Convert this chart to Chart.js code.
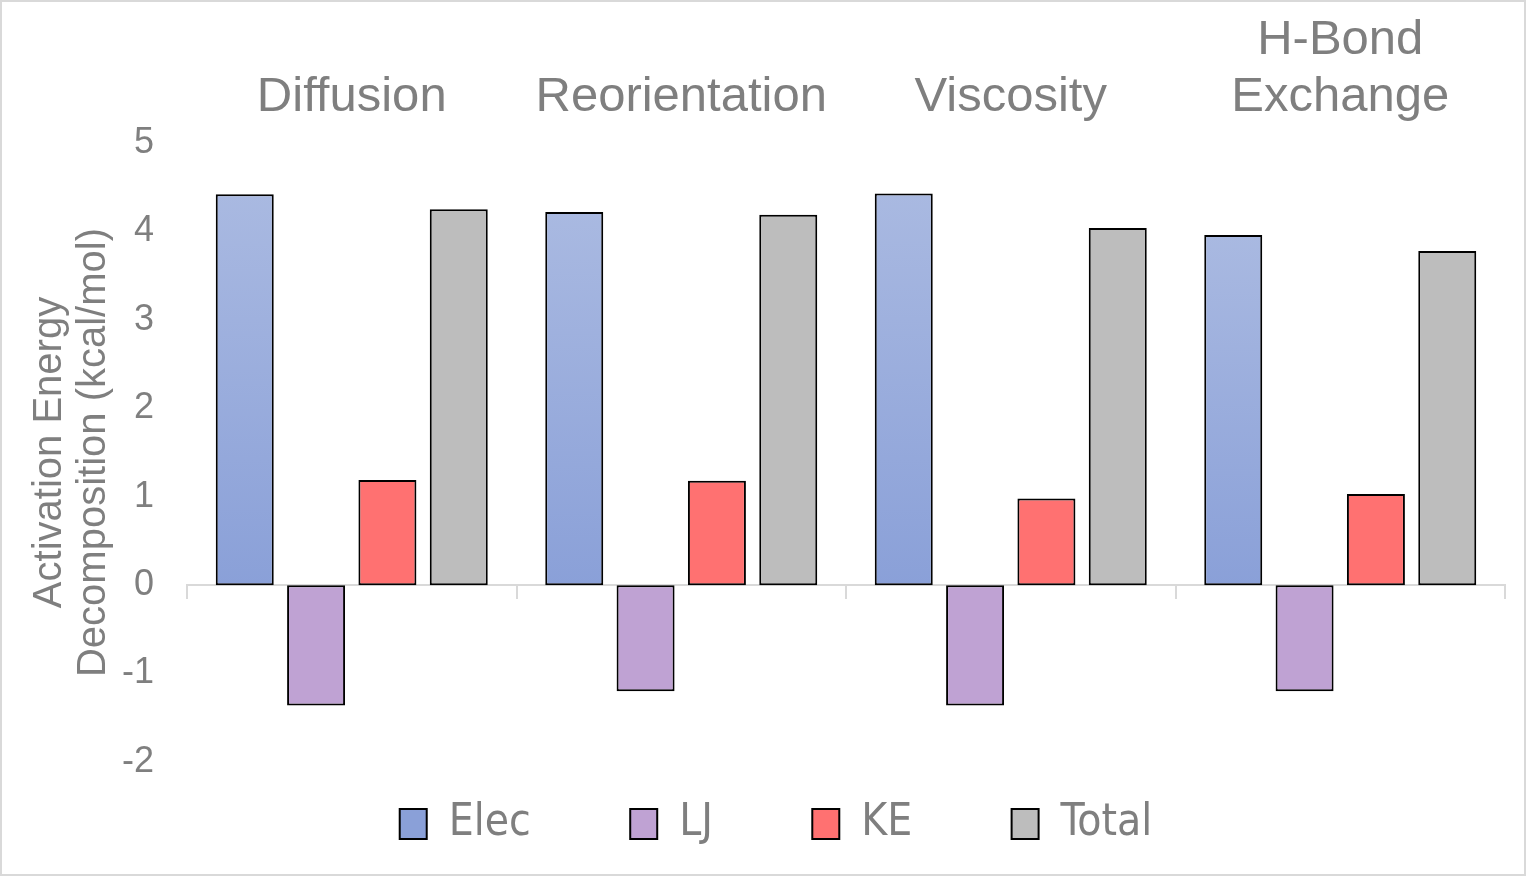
<!DOCTYPE html>
<html>
<head>
<meta charset="utf-8">
<script src="https://cdn.jsdelivr.net/npm/chart.js@4/dist/chart.umd.min.js"></script>
<style>
  html, body { margin: 0; padding: 0; background: #ffffff; }
  canvas { display: block; }
</style>
</head>
<body>
<canvas id="c" width="1526" height="876"></canvas>
<script>
// ---- data ----
const categories = ['Diffusion', 'Reorientation', 'Viscosity', ['H-Bond', 'Exchange']];
const seriesNames = ['Elec', 'LJ', 'KE', 'Total'];
const elecValues  = [4.42, 4.22, 4.43, 3.96];
const ljValues    = [-1.36, -1.20, -1.36, -1.20];
const keValues    = [1.19, 1.18, 0.98, 1.03];
const totalValues = [4.25, 4.19, 4.04, 3.78];
const yMin = -2, yMax = 5, yStep = 1;

// ---- style ----
const TEXT = '#7F7F7F';
const AXIS = '#D9D9D9';
const SANS = '"Liberation Sans", Arial, sans-serif';
const NARROW = '"Liberation Sans Narrow", "DejaVu Sans Condensed", "Liberation Sans", sans-serif';
const ELEC_TOP = '#A9B9E1', ELEC_BOT = '#8AA0D8';
const LEGEND_PAD = 40, LEGEND_FONT = 44, BOX_W = 27, BOX_H = 30;

function elecFill(c) {
  const chart = c.chart;
  const ys = chart.scales && chart.scales.y;
  if (c.type === 'dataset') {
    const lg = chart.legend;
    if (!lg || lg.top === undefined) return ELEC_BOT;
    const t = lg.top + LEGEND_PAD + (LEGEND_FONT - BOX_H) / 2;
    const g = chart.ctx.createLinearGradient(0, t, 0, t + BOX_H);
    g.addColorStop(0, ELEC_TOP); g.addColorStop(1, ELEC_BOT);
    return g;
  }
  if (!ys || !chart.chartArea || !c.parsed) return ELEC_BOT;
  const g = chart.ctx.createLinearGradient(0, ys.getPixelForValue(c.parsed.y), 0, ys.getPixelForValue(0));
  g.addColorStop(0, ELEC_TOP); g.addColorStop(1, ELEC_BOT);
  return g;
}

const framePlugin = {
  id: 'frame',
  beforeDraw(chart) {
    const ctx = chart.ctx;
    ctx.save();
    ctx.fillStyle = '#ffffff';
    ctx.fillRect(0, 0, chart.width, chart.height);
    ctx.strokeStyle = AXIS;
    ctx.lineWidth = 2;
    ctx.strokeRect(1, 1, chart.width - 2, chart.height - 2);
    ctx.restore();
  }
};

const barCommon = { borderColor: '#000000', borderWidth: 2, borderSkipped: false,
  categoryPercentage: 0.866, barPercentage: 0.813 };

const chart = new Chart(document.getElementById('c'), {
  type: 'bar',
  data: {
    labels: categories,
    datasets: [
      Object.assign({ label: seriesNames[0], data: elecValues, backgroundColor: elecFill }, barCommon),
      Object.assign({ label: seriesNames[1], data: ljValues, backgroundColor: '#BFA2D3' }, barCommon),
      Object.assign({ label: seriesNames[2], data: keValues, backgroundColor: '#FF7171' }, barCommon),
      Object.assign({ label: seriesNames[3], data: totalValues, backgroundColor: '#BDBDBD' }, barCommon)
    ]
  },
  plugins: [framePlugin],
  options: {
    responsive: false,
    devicePixelRatio: 1,
    animation: false,
    layout: { padding: { left: 47, right: 21, top: 0, bottom: 20 } },
    scales: {
      x: {
        type: 'category',
        position: { y: 0 },
        offset: true,
        grid: { offset: true, drawOnChartArea: false, drawTicks: true, tickLength: 13, color: AXIS, lineWidth: 2 },
        border: { display: true, color: AXIS, width: 2 },
        ticks: { display: false }
      },
      xTop: {
        type: 'category',
        position: 'top',
        offset: true,
        grid: { display: false, drawTicks: false },
        border: { display: false },
        ticks: { color: TEXT, font: { family: SANS, size: 49, lineHeight: 1.16 }, padding: 17,
                 maxRotation: 0, autoSkip: false },
        afterFit(s) { s.height = 143; }
      },
      y: {
        min: yMin, max: yMax,
        grid: { display: false, drawTicks: false },
        border: { display: false },
        ticks: { stepSize: yStep, color: TEXT, font: { family: SANS, size: 36 }, padding: 33 },
        title: { display: true, text: ['Activation Energy', 'Decomposition (kcal/mol)'], color: TEXT,
                 font: { family: SANS, size: 40, lineHeight: 1.1 }, padding: { top: -19, bottom: 0 } },
        afterFit(s) { s.width = 140; }
      }
    },
    plugins: {
      tooltip: { enabled: false },
      legend: {
        position: 'bottom',
        labels: {
          color: TEXT,
          font: { family: NARROW, size: LEGEND_FONT },
          boxWidth: BOX_W, boxHeight: BOX_H,
          padding: LEGEND_PAD,
          generateLabels(ch) {
            const items = Chart.defaults.plugins.legend.labels.generateLabels(ch);
            items.forEach((it, i) => {
              it.lineWidth = 2;
              if (i < items.length - 1) it.text = it.text + '\u2002\u2002\u2002';
            });
            return items;
          }
        }
      }
    }
  }
});
chart.update('none');
</script>
</body>
</html>
